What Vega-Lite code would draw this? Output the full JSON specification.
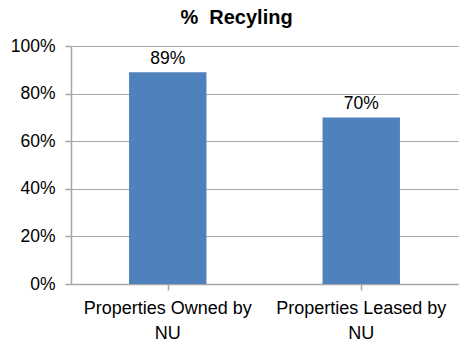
{
  "$schema": "https://vega.github.io/schema/vega-lite/v6.json",
  "width": 387,
  "height": 238,
  "autosize": "none",
  "padding": {"left": 71, "top": 46, "right": 3, "bottom": 60},
  "background": "white",
  "title": {"text": "% \u00a0Recyling", "font": "Liberation Sans", "fontSize": 20, "fontWeight": "bold", "color": "#000000", "anchor": "middle", "dx": -28, "offset": 9},
  "config": {"view": {"stroke": null}, "font": "Liberation Sans"},
  "data": {"values": [
    {"category": "Properties Owned by NU", "value": 0.89},
    {"category": "Properties Leased by NU", "value": 0.70}
  ]},
  "layer": [
    {
      "mark": {"type": "bar", "color": "#4F81BD"},
      "encoding": {
        "x": {"field": "category", "type": "nominal", "sort": null, "scale": {"paddingInner": 0.6, "paddingOuter": 0.3}, "axis": {"orient": "bottom", "title": null, "labelAngle": 0, "labelFont": "Liberation Sans", "labelFontSize": 18, "labelColor": "#000000", "labelExpr": "[slice(datum.label, 0, -3), 'NU']", "labelPadding": 15, "labelLineHeight": 25, "ticks": false, "domainColor": "#a6a6a6", "domainWidth": 1.5}},
        "y": {"field": "value", "type": "quantitative", "scale": {"domain": [0, 1]}, "axis": {"title": null, "format": ".0%", "values": [0, 0.2, 0.4, 0.6, 0.8, 1], "labelFont": "Liberation Sans", "labelFontSize": 17.5, "labelColor": "#000000", "labelPadding": 10, "tickSize": 6, "tickColor": "#a6a6a6", "tickWidth": 1.5, "domainColor": "#a6a6a6", "domainWidth": 1.5, "gridColor": "#a6a6a6", "gridWidth": 1.2}}
      }
    },
    {
      "mark": {"type": "text", "baseline": "bottom", "dy": -4, "font": "Liberation Sans", "fontSize": 17.5, "color": "#000000"},
      "encoding": {
        "x": {"field": "category", "type": "nominal", "sort": null, "scale": {"paddingInner": 0, "paddingOuter": 0}, "axis": {"orient": "bottom", "title": null, "labels": false, "domain": false, "bandPosition": 0, "tickSize": 6, "tickColor": "#a6a6a6", "tickWidth": 1.5}},
        "y": {"field": "value", "type": "quantitative"},
        "text": {"field": "value", "type": "quantitative", "format": ".0%"}
      }
    }
  ],
  "resolve": {"axis": {"x": "independent"}, "scale": {"x": "independent"}}
}
